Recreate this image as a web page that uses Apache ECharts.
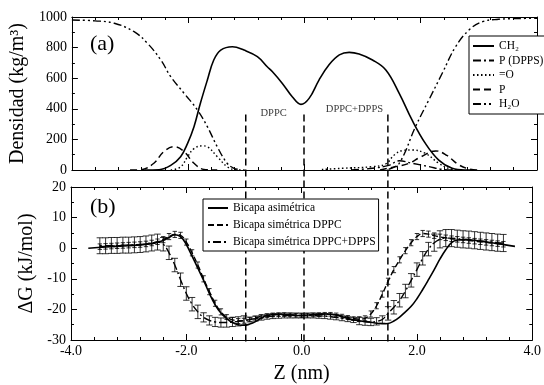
<!DOCTYPE html>
<html><head><meta charset="utf-8">
<script src="https://cdn.jsdelivr.net/npm/echarts@6/dist/echarts.min.js"></script>
<style>html,body{margin:0;padding:0;background:#fff}#c{width:544px;height:385px}</style>
</head><body><div id="c"></div>
<script>
// ---------- Panel (a): density profiles [z (nm), density (kg/m3)] ----------
const ch2 = [[-2.75,0],[-2.5,2],[-2.3,30],[-2.13,87],[-2.01,174],[-1.9,283],[-1.79,436],[-1.67,588],[-1.56,719],[-1.44,784],[-1.24,806],[-1.04,784],[-0.81,741],[-0.64,675],[-0.55,642],[-0.38,566],[-0.21,479],[-0.06,429],[0.08,468],[0.25,588],[0.42,686],[0.6,752],[0.77,769],[0.94,758],[1.17,719],[1.4,654],[1.63,501],[1.85,327],[2.08,174],[2.31,65],[2.54,11],[2.76,0],[2.9,0]];
const pDPPS = [[0.8,0],[1.17,11],[1.45,30],[1.63,60],[1.85,44],[2.14,22],[2.37,4],[2.6,0]];
const oxy = [[-2.3,0],[-2.13,20],[-2.01,87],[-1.9,140],[-1.76,158],[-1.67,152],[-1.5,87],[-1.33,22],[-1.2,3],[-1.0,0],null,[0.3,3],[0.65,11],[1.17,22],[1.4,40],[1.55,100],[1.7,128],[1.85,131],[2.08,109],[2.31,44],[2.5,8],[2.7,0]];
const phos = [[-3.0,0],[-2.82,2],[-2.59,44],[-2.42,120],[-2.24,152],[-2.07,120],[-1.9,44],[-1.73,4],[-1.5,0],null,[1.3,0],[1.57,22],[1.8,44],[2.0,85],[2.26,125],[2.45,95],[2.65,35],[2.85,5],[3.0,0]];
const water = [[-4.0,980],[-3.6,975],[-3.27,959],[-2.93,904],[-2.7,828],[-2.47,719],[-2.3,610],[-2.07,501],[-1.84,392],[-1.67,283],[-1.5,152],[-1.33,44],[-1.22,13],[-1.1,2],null,[1.45,5],[1.63,44],[1.91,283],[2.14,458],[2.37,632],[2.6,806],[2.83,915],[3.06,969],[3.34,985],[3.7,990],[4.0,992]];
const densityNames = ['CH\u2082','P (DPPS)','=O','P','H\u2082O'];

// ---------- Panel (b): free energy [kJ/mol] ----------
const zErr = [-3.5,-3.4,-3.3,-3.2,-3.1,-3.0,-2.9,-2.8,-2.7,-2.6,-2.5,-2.4,-2.3,-2.2,-2.1,-2.0,-1.9,-1.8,-1.7,-1.6,-1.5,-1.4,-1.3,-1.2,-1.1,-1.0,-0.9,-0.8,-0.7,-0.6,-0.5,-0.4,-0.3,-0.2,-0.1,0.0,0.1,0.2,0.3,0.4,0.5,0.6,0.7,0.8,0.9,1.0,1.1,1.2,1.3,1.4,1.5,1.6,1.7,1.8,1.9,2.0,2.1,2.2,2.3,2.4,2.5,2.6,2.7,2.8,2.9,3.0,3.1,3.2,3.3,3.4,3.5];
const dgDPPC = [0.5,0.6,0.7,0.8,0.9,1.0,1.1,1.2,1.4,1.7,2.1,2.8,3.8,4.5,4.2,2.0,-1.5,-5.5,-10.0,-14.2,-18.0,-20.8,-22.5,-23.4,-23.8,-23.7,-23.3,-22.8,-22.3,-22.0,-21.8,-21.7,-21.7,-21.8,-21.9,-22.0,-21.9,-21.8,-21.7,-21.6,-21.6,-21.8,-22.2,-22.6,-23.0,-23.2,-22.9,-21.5,-18.8,-15.0,-10.8,-7.0,-3.8,-0.8,1.8,3.8,4.8,4.6,4.1,3.7,3.4,3.1,2.9,2.7,2.5,2.3,2.1,1.9,1.7,1.5,1.3];
const errDPPC = [0.9,0.9,0.9,0.9,0.9,0.9,0.9,0.9,0.9,0.9,0.9,1.0,1.0,1.0,1.0,1.0,1.0,1.0,1.0,1.0,1.0,1.0,0.8,0.8,0.8,0.8,0.6,0.6,0.6,0.6,0.6,0.6,0.6,0.6,0.6,0.6,0.6,0.6,0.6,0.6,0.6,0.6,0.6,0.6,0.6,0.8,0.8,1.0,1.0,1.0,1.0,1.0,1.0,1.0,1.0,1.0,1.0,1.0,0.9,0.9,0.9,0.9,0.9,0.9,0.9,0.9,0.9,0.9,0.9,0.9,0.9];
const dgDPPS = [0.8,0.8,0.9,0.9,1.0,1.0,1.1,1.2,1.4,1.7,2.0,1.3,-1.5,-5.5,-10.3,-14.8,-18.3,-20.8,-22.6,-23.6,-24.1,-24.3,-24.3,-24.1,-23.9,-23.6,-23.3,-23.0,-22.7,-22.4,-22.2,-22.1,-22.0,-22.0,-22.0,-22.0,-22.0,-22.0,-22.1,-22.2,-22.4,-22.6,-22.9,-23.2,-23.5,-23.8,-24.0,-24.1,-23.9,-23.3,-21.3,-19.3,-17.0,-14.0,-10.5,-7.0,-3.3,-0.3,1.8,2.9,3.3,3.3,3.1,2.9,2.8,2.6,2.4,2.2,2.0,1.8,1.7];
const errDPPS = [2.6,2.6,2.6,2.6,2.6,2.6,2.6,2.6,2.6,2.6,2.6,2.2,2.2,2.2,2.2,2.2,2.2,2.2,1.5,1.5,1.5,1.5,1.5,1.5,1.5,1.5,0.8,0.8,0.8,0.8,0.8,0.8,0.8,0.8,0.8,0.8,0.8,0.8,0.8,0.8,0.8,0.8,0.8,0.8,0.8,1.2,1.2,1.2,1.2,1.2,2.2,2.2,2.2,2.2,2.2,2.2,2.2,2.2,2.8,2.8,2.8,2.8,2.8,2.8,2.8,2.8,2.8,2.8,2.8,2.8,2.8];
const dgAsym = [[-3.7,0],[-3.4,0.4],[-3.0,0.8],[-2.8,1.1],[-2.6,1.5],[-2.5,1.9],[-2.4,2.5],[-2.3,3.5],[-2.2,4.4],[-2.1,3.8],[-2.0,1.2],[-1.9,-2.6],[-1.8,-6.5],[-1.7,-10.5],[-1.6,-14.8],[-1.5,-18.5],[-1.4,-21.2],[-1.3,-23.0],[-1.2,-24.3],[-1.1,-25.0],[-1.0,-25.2],[-0.9,-24.8],[-0.8,-24.0],[-0.7,-22.8],[-0.6,-22.0],[-0.4,-21.6],[-0.2,-21.8],[0,-22.0],[0.2,-21.7],[0.4,-21.5],[0.6,-21.8],[0.8,-23.0],[1.0,-23.7],[1.2,-24.2],[1.4,-24.7],[1.5,-24.6],[1.6,-23.8],[1.7,-22.5],[1.8,-20.8],[1.9,-19.0],[2.0,-16.5],[2.1,-13.5],[2.2,-10.3],[2.3,-7.0],[2.4,-3.5],[2.5,-0.5],[2.6,1.8],[2.7,2.7],[2.8,2.8],[3.0,2.6],[3.2,2.0],[3.4,1.5],[3.7,0.6]];
const energyNames = ['Bicapa asimétrica','Bicapa simétrica DPPC','Bicapa simétrica DPPC+DPPS'];

// vertical dashed dividers (z positions) and their labels
const dividers = [-1.0, 0.0, 1.44];
const regionLabels = ['DPPC','DPPC+DPPS'];

const FONT = '"Liberation Serif", "Times New Roman", serif';
const K = '#000';

function axisCommon(extra){
  return Object.assign({
    axisLine:{show:true,onZero:false,lineStyle:{color:K,width:1}},
    axisTick:{show:true,inside:true,length:6,lineStyle:{color:K}},
    minorTick:{show:true,length:3,lineStyle:{color:K}},
    splitLine:{show:false},
    axisLabel:{show:false}
  }, extra);
}
const xBase = {type:'value',min:-4,max:4,interval:2};
const xMinor = {show:true,splitNumber:5,length:3,lineStyle:{color:K}};
const yMinor = {show:true,splitNumber:2,length:3,lineStyle:{color:K}};

function errRender(capHalf){
  return function(params, api){
    const x = api.value(0), y = api.value(1), e = api.value(2);
    const t = api.coord([x, y+e]), b = api.coord([x, y-e]);
    const st = {stroke:K, lineWidth:0.8};
    return {type:'group', children:[
      {type:'line', shape:{x1:t[0],y1:t[1],x2:b[0],y2:b[1]}, style:st},
      {type:'line', shape:{x1:t[0]-capHalf,y1:t[1],x2:t[0]+capHalf,y2:t[1]}, style:st},
      {type:'line', shape:{x1:b[0]-capHalf,y1:b[1],x2:b[0]+capHalf,y2:b[1]}, style:st}
    ]};
  };
}

const lineS = (name, data, type, xi, yi, w) => ({
  name, type:'line', data, xAxisIndex:xi, yAxisIndex:yi, symbol:'none', smooth:0.4,
  connectNulls:false, silent:true,
  lineStyle:{color:K, width:w||1.5, type:type}, itemStyle:{color:K}
});
const hiddenSym = {color:'rgba(0,0,0,0)', borderColor:'rgba(0,0,0,0)', borderWidth:0};

const chart = echarts.init(document.getElementById('c'), null, {renderer:'canvas'});
chart.setOption({
  animation:false,
  backgroundColor:'#fff',
  textStyle:{fontFamily:FONT,color:K},
  grid:[
    {left:71,right:7,top:17,height:153},
    {left:71,right:7,top:187,height:154.5},
    {left:71,right:7,top:113,bottom:43.5}
  ],
  xAxis:[
    axisCommon(Object.assign({gridIndex:0,position:'bottom',minorTick:xMinor},xBase)),
    axisCommon(Object.assign({gridIndex:0,position:'top',minorTick:xMinor},xBase)),
    axisCommon(Object.assign({gridIndex:1,position:'bottom',minorTick:xMinor,
      axisLabel:{show:true,fontSize:14,fontFamily:FONT,color:K,margin:4,formatter:v=>v.toFixed(1)},
      name:'Z (nm)',nameLocation:'middle',nameGap:24,nameTextStyle:{fontSize:20,fontFamily:FONT,color:K}},xBase)),
    axisCommon(Object.assign({gridIndex:1,position:'top',minorTick:xMinor},xBase)),
    Object.assign({gridIndex:2,show:false},xBase)
  ],
  yAxis:[
    axisCommon({type:'value',gridIndex:0,position:'left',min:0,max:1000,interval:200,minorTick:yMinor,
      axisLabel:{show:true,fontSize:14,fontFamily:FONT,color:K,margin:5,formatter:v=>String(v)},
      name:'Densidad (kg/m\u00B3)',nameLocation:'middle',nameGap:31,nameTextStyle:{fontSize:20,fontFamily:FONT,color:K}}),
    axisCommon({type:'value',gridIndex:0,position:'right',min:0,max:1000,interval:200,minorTick:yMinor}),
    axisCommon({type:'value',gridIndex:1,position:'left',min:-30,max:20,interval:10,minorTick:yMinor,
      axisLabel:{show:true,fontSize:14,fontFamily:FONT,color:K,margin:5,formatter:v=>String(v)},
      name:'\u0394G (kJ/mol)',nameLocation:'middle',nameGap:24,nameTextStyle:{fontSize:20,fontFamily:FONT,color:K}}),
    axisCommon({type:'value',gridIndex:1,position:'right',min:-30,max:20,interval:10,minorTick:yMinor}),
    {type:'value',gridIndex:2,show:false,min:0,max:1}
  ],
  legend:[
    {data:densityNames, orient:'vertical', left:469, top:36, itemWidth:21, itemHeight:8, itemGap:2.5,
     padding:[4,4,4,3], borderColor:K, borderWidth:1, borderRadius:0, backgroundColor:'#fff',
     itemStyle:hiddenSym,
     textStyle:{fontFamily:FONT,fontSize:11.5,color:K}, selectedMode:false},
    {data:energyNames, orient:'vertical', left:203, top:199, itemWidth:20, itemHeight:9, itemGap:5,
     padding:[3,3,3,4], borderColor:K, borderWidth:1, borderRadius:0, backgroundColor:'#fff',
     itemStyle:hiddenSym,
     textStyle:{fontFamily:FONT,fontSize:11.5,color:K}, selectedMode:false}
  ],
  graphic:[
    {type:'text', left:90, top:33, style:{text:'(a)', font:'22px "Liberation Serif"', fill:K}},
    {type:'text', left:90, top:196, style:{text:'(b)', font:'22px "Liberation Serif"', fill:K}}
  ],
  series:[
    lineS(densityNames[0], ch2, 'solid', 0, 0, 1.6),
    lineS(densityNames[1], pDPPS, [8,3,2,3], 0, 0, 1.4),
    lineS(densityNames[2], oxy, [1.5,2.5], 0, 0, 1.4),
    lineS(densityNames[3], phos, [7,4], 0, 0, 1.5),
    lineS(densityNames[4], water, [8,3,2,3,2,3], 0, 0, 1.4),
    {type:'custom', name:'errDPPS', xAxisIndex:2, yAxisIndex:2, silent:true, clip:true,
     renderItem:errRender(3.2), encode:{x:0,y:1}, data:zErr.map((z,i)=>[z,dgDPPS[i],errDPPS[i]])},
    {type:'custom', name:'errDPPC', xAxisIndex:2, yAxisIndex:2, silent:true, clip:true,
     renderItem:errRender(2.2), encode:{x:0,y:1}, data:zErr.map((z,i)=>[z,dgDPPC[i],errDPPC[i]])},
    lineS(energyNames[0], dgAsym, 'solid', 2, 2, 1.6),
    lineS(energyNames[1], zErr.map((z,i)=>[z,dgDPPC[i]]), [6,3], 2, 2, 1.4),
    lineS(energyNames[2], zErr.map((z,i)=>[z,dgDPPS[i]]), [2,3,8,3], 2, 2, 1.4),
    {type:'line', name:'dividers', xAxisIndex:4, yAxisIndex:4, symbol:'none', silent:true,
     lineStyle:{color:K,width:1.5,type:[7,4]},
     data: dividers.flatMap((d,i)=> i<dividers.length-1 ? [[d,0],[d,1],null] : [[d,0],[d,1]]),
     connectNulls:false},
    {type:'scatter', name:'labels', xAxisIndex:0, yAxisIndex:0, symbolSize:0, silent:true,
     label:{show:true, position:'inside', formatter:p=>p.data[2], fontFamily:FONT, fontSize:10.5, color:K},
     data:[[-0.53,372,regionLabels[0]],[0.86,395,regionLabels[1]]]}
  ]
});
</script></body></html>
